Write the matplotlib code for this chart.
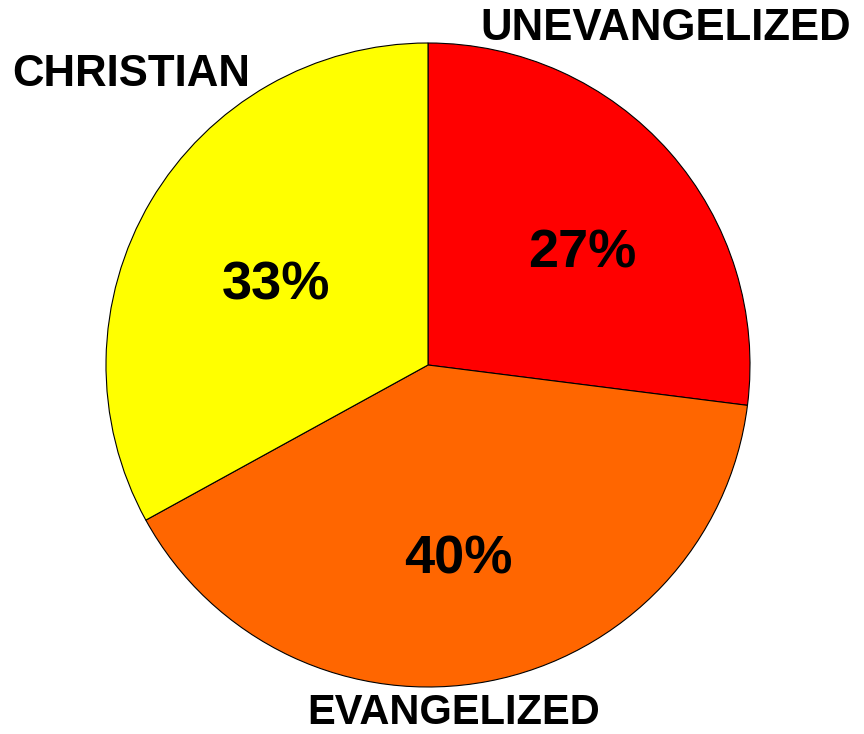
import matplotlib
matplotlib.use("Agg")
import matplotlib.pyplot as plt

# data
labels = ["UNEVANGELIZED", "EVANGELIZED", "CHRISTIAN"]
shares = [27, 40, 33]
colors = ["#FF0000", "#FF6600", "#FFFF00"]

W, H = 864, 734
fig = plt.figure(figsize=(W / 100, H / 100), dpi=100)
ax = fig.add_axes([0, 0, 1, 1])

cx, cy, r = 428, H - 365, 322
ax.pie(shares, colors=colors, startangle=90, counterclock=False,
       center=(cx, cy), radius=r, frame=True,
       wedgeprops=dict(edgecolor="black", linewidth=0.8))
ax.set_xlim(0, W)
ax.set_ylim(0, H)
ax.set_aspect("equal")
ax.axis("off")

font = dict(family=["Liberation Sans", "DejaVu Sans"], fontweight="bold", color="black")

# percent labels
pct_pos = [(582, 254), (458, 560), (276, 286)]
for v, (x, y) in zip(shares, pct_pos):
    ax.text(x, H - y, f"{v}%", ha="center", va="center", fontsize=39, **font)

# category labels (baseline positions)
lab_pos = [(666, 40), (454, 724), (131, 86)]
lab_size = [31.5, 30, 31.5]
for s, (x, y), fs in zip(labels, lab_pos, lab_size):
    ax.text(x, H - y, s, ha="center", va="baseline", fontsize=fs, **font)

fig.savefig("out.png", dpi=100)
